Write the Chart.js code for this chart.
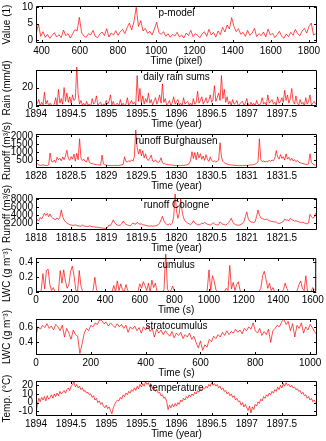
<!DOCTYPE html>
<html lang="en">
<head>
  <meta charset="UTF-8">
  <title>Example time series</title>
  <script src="https://cdn.jsdelivr.net/npm/chart.js"></script>
  <style>
    body {
      margin: 0;
      background: #fff;
      width: 326px;
      height: 441px;
      position: relative;
      overflow: hidden;
    }
    canvas {
      position: absolute;
      left: 0;
    }
  </style>
</head>
<body>
  <canvas id="c1"></canvas>
  <canvas id="c2"></canvas>
  <canvas id="c3"></canvas>
  <canvas id="c4"></canvas>
  <canvas id="c5"></canvas>
  <canvas id="c6"></canvas>
  <canvas id="c7"></canvas>
  <script>
    // p-model (x in pixel)
    const pmodelStart = 372, pmodelStep = 11.9;
    const pmodelValues = [
      2.1, 4.8, 1.2, 2.6, 0.9, 1.8, 0.6, 1.5, 2.3, 1.0,
      1.7, 0.8, 3.1, 1.4, 2.0, 0.7, 1.9, 3.2, 2.8, 6.9,
      2.2, 1.3, 0.9, 2.0, 1.6, 3.0, 1.2, 0.8, 1.9, 2.5,
      1.4, 3.5, 1.0, 2.2, 1.6, 2.9, 1.5, 2.6, 3.3, 2.0,
      3.8, 5.2, 3.1, 5.6, 9.9, 4.2, 5.9, 2.8, 3.6, 2.1,
      2.7, 1.6, 3.4, 5.4, 2.3, 1.8, 2.6, 1.2, 2.0, 0.9,
      1.8, 1.3, 2.4, 1.0, 1.6, 0.7, 2.2, 1.4, 3.0, 1.1,
      2.0, 1.5, 0.8, 1.9, 2.6, 1.2, 3.3, 1.6, 2.4, 1.0,
      2.8, 1.7, 3.9, 2.5, 4.6, 3.4, 6.8, 4.1, 2.6, 3.5,
      1.8, 2.4, 1.2, 3.0, 1.5, 2.2, 3.6, 1.1, 2.0, 1.4,
      2.5, 1.0, 3.4, 1.6, 2.1, 0.8, 1.7, 2.7, 1.2, 0.6,
      1.9, 1.1, 2.4, 1.5, 3.3, 2.0, 1.4, 2.8, 3.6, 2.2,
      4.1, 5.2, 1.6, 2.0
    ];

    // daily rain sums (mm/d)
    const rainStart = 1894, rainStep = 0.02;
    const rainValues = [
      1, 3, 7, 0, 4, 1, 15, 2, 6, 0, 3, 1, 0, 2, 9, 1, 18, 3, 8, 2,
      20, 5, 14, 4, 10, 3, 12, 6, 8, 42, 13, 2, 6, 1, 3, 0, 5, 1, 2, 0,
      8, 2, 4, 11, 1, 3, 4, 0, 2, 1, 6, 2, 5, 12, 1, 5, 0, 2, 3, 0,
      7, 1, 3, 0, 2, 9, 1, 3, 6, 2, 4, 1, 33, 5, 19, 3, 11, 2, 8, 4,
      14, 3, 7, 1, 5, 9, 2, 6, 12, 3, 24, 4, 8, 1, 3, 6, 0, 4, 10, 2,
      5, 7, 1, 3, 0, 9, 2, 4, 5, 1, 3, 0, 8, 2, 4, 16, 3, 6, 10, 2,
      5, 9, 3, 6, 12, 4, 7, 22, 5, 9, 14, 6, 33, 8, 18, 4, 10, 2, 5, 1,
      7, 2, 3, 6, 0, 2, 4, 5, 1, 3, 8, 2, 0, 4, 1, 3, 0, 6, 2, 1,
      3, 9, 2, 4, 1, 12, 3, 5, 7, 2, 4, 1, 10, 3, 5, 9, 4, 17, 6, 12,
      3, 8, 19, 5, 2, 11, 3, 1, 7, 2, 4, 0, 9, 2, 5, 12, 1, 3, 5, 2
    ];

    // runoff Burghausen (m3/s)
    const burgStart = 1828, burgStep = 0.02;
    const burgValues = [
      180, 260, 190, 170, 160, 210, 170, 160, 150, 200,
      950, 420, 380, 500, 350, 680, 520, 610, 450, 700,
      520, 760, 1120, 600, 480, 720, 560, 880, 430, 920,
      520, 1850, 640, 470, 560, 420, 380, 700, 350, 300,
      280, 250, 230, 210, 200, 190, 180, 820, 260, 200,
      180, 170, 160, 160, 150, 150, 160, 170, 150, 160,
      180, 200, 220, 710, 420, 380, 450, 400, 520, 430,
      700, 2450, 1300, 880, 1200, 760, 1100, 640, 900, 560,
      480, 620, 820, 450, 400, 520, 380, 350, 420, 650,
      330, 280, 250, 230, 220, 200, 190, 180, 170, 160,
      160, 150, 160, 150, 170, 160, 180, 200, 230, 280,
      450, 1030, 600, 980, 520, 1000, 640, 900, 550, 760,
      480, 840, 560, 420, 700, 480, 400, 450, 380, 430,
      500, 1600, 700, 420, 330, 280, 250, 220, 200, 190,
      180, 170, 160, 160, 150, 150, 160, 150, 160, 170,
      160, 170, 180, 200, 190, 220, 250, 300, 380, 1850,
      520, 400, 450, 380, 420, 400, 480, 430, 500, 460,
      620, 1100, 700, 560, 850, 600, 720, 500, 900, 560,
      680, 480, 620, 450, 520, 400, 480, 380, 340, 300,
      280, 250, 230, 220, 260, 900, 350, 250, 200, 180
    ];

    // runoff Cologne (m3/s)
    const colStart = 1818, colStep = 0.02;
    const colValues = [
      2000, 2900, 2600, 3400, 3000, 3700, 4500, 3900, 4400, 3600,
      4300, 3500, 3200, 3000, 2800, 3300, 2900, 3400, 5300, 3600,
      2800, 2300, 2000, 1800, 1600, 1500, 1450, 1400, 1550, 1400,
      1300, 1250, 1200, 1500, 1300, 1200, 1150, 1100, 1300, 1200,
      1100, 1050, 1000, 950, 900, 850, 800, 750, 700, 650,
      600, 900, 1500, 1400, 2000, 2800, 2100, 1700, 1500, 1400,
      1500, 1800, 2500, 2000, 1700, 1500, 1400, 1300, 1600, 2000,
      1800, 1700, 2200, 1900, 1700, 1800, 1600, 1500, 1400, 1300,
      1250, 1200, 1300, 1200, 1250, 1300, 1400, 1600, 2000, 2800,
      3700, 2600, 2000, 1700, 1500, 1800, 1600, 2000, 3500, 9500,
      5000, 3200, 4500, 8200, 5000, 3300, 2600, 2200, 2000, 1800,
      1650, 1900, 2600, 2100, 1800, 1600, 1500, 1700, 2000, 1800,
      2200, 1900, 1700, 1600, 1500, 1700, 2100, 1800, 1600, 1500,
      1600, 2300, 1900, 1700, 1600, 1500, 1700, 2100, 2600, 3200,
      2300, 1800, 1600, 1500, 1450, 1500, 1700, 1900, 2400, 3600,
      4800, 3200, 2500, 2300, 2200, 2100, 2400, 3600, 5300, 4000,
      3300, 3100, 3000, 2800, 3000, 2800, 2600, 2500, 2400, 2300,
      2300, 2200, 2000, 1900, 2000, 2200, 2400, 3000, 2700, 2800,
      2600, 3200, 2900, 2700, 2500, 2600, 2400, 2300, 2200, 2100,
      2200, 2000, 1900, 1800, 2000, 4200, 3600, 3200, 3500, 4500
    ];

    // cumulus liquid water content (g m-3)
    const cumStart = 0, cumStep = 10;
    const cumValues = [
      0, 0, 0, 0.02, 0.25, 0.04, 0.29, 0.31, 0.1, 0.02,
      0.06, 0, 0, 0.01, 0.29, 0.12, 0.3, 0.15, 0.05, 0.1,
      0.28, 0.35, 0.22, 0.03, 0, 0.29, 0.08, 0, 0, 0,
      0, 0, 0, 0.02, 0.2, 0.03, 0, 0, 0, 0,
      0, 0, 0, 0, 0.01, 0.09, 0, 0.15, 0.02, 0.11,
      0.03, 0, 0.1, 0.02, 0, 0, 0, 0, 0, 0.01,
      0.11, 0.05, 0.14, 0.09, 0.02, 0.12, 0, 0.16, 0.06, 0.12,
      0, 0, 0, 0, 0.03, 0.55, 0.04, 0, 0.02, 0.08,
      0.02, 0, 0, 0, 0, 0, 0, 0, 0, 0,
      0, 0, 0, 0, 0, 0, 0, 0, 0, 0.02,
      0.3, 0.02, 0.22, 0.15, 0.03, 0, 0, 0, 0, 0.01,
      0.05, 0.02, 0.36, 0.04, 0.13, 0.02, 0.1, 0.14, 0.02, 0,
      0, 0, 0, 0, 0, 0, 0, 0, 0, 0.01,
      0.05, 0.22, 0.28, 0.17, 0.05, 0.12, 0.02, 0.06, 0, 0,
      0, 0, 0, 0.03, 0.12, 0.05, 0, 0, 0, 0,
      0, 0.02, 0.1, 0.15, 0.05, 0.02, 0.22, 0, 0, 0,
      0.06, 0.03
    ];

    // stratocumulus liquid water content (g m-3)
    const stratStart = 0, stratStep = 8;
    const stratValues = [
      0.50, 0.60, 0.57, 0.62, 0.59, 0.64, 0.58, 0.61, 0.56, 0.63,
      0.60, 0.55, 0.62, 0.47, 0.58, 0.52, 0.44, 0.56, 0.50, 0.48,
      0.26, 0.38, 0.52, 0.58, 0.55, 0.62, 0.60, 0.65, 0.63, 0.69,
      0.68, 0.64, 0.66, 0.61, 0.65, 0.62, 0.59, 0.64, 0.60, 0.63,
      0.58, 0.62, 0.53, 0.60, 0.57, 0.61, 0.55, 0.59, 0.52, 0.60,
      0.56, 0.62, 0.54, 0.58, 0.47, 0.57, 0.52, 0.56, 0.50, 0.55,
      0.51, 0.48, 0.54, 0.46, 0.52, 0.49, 0.53, 0.45, 0.50, 0.47,
      0.52, 0.44, 0.48, 0.40, 0.33, 0.42, 0.30, 0.37, 0.34, 0.44,
      0.41, 0.48, 0.45, 0.50, 0.47, 0.53, 0.49, 0.55, 0.50, 0.54,
      0.52, 0.57, 0.53, 0.56, 0.51, 0.58, 0.55, 0.60, 0.57, 0.65,
      0.55, 0.52, 0.58, 0.49, 0.54, 0.50, 0.57, 0.40, 0.55, 0.58,
      0.62, 0.60, 0.66, 0.70, 0.63, 0.67, 0.55, 0.64, 0.47, 0.62,
      0.58, 0.65, 0.52, 0.60, 0.56, 0.63, 0.59, 0.54, 0.50
    ];

    // temperature (deg C)
    const tempStart = 1894, tempStep = 0.02;
    const tempValues = [
      -12, -2, 5, 1, 6, 3, 7, 2, 8, 4,
      6, 9, 5, 10, 7, 11, 8, 13, 10, 12,
      14, 11, 15, 17, 14, 19, 21, 24, 18, 21,
      17, 19, 15, 17, 13, 14, 11, 12, 9, 10,
      6, 8, 3, 5, 0, 2, -2, 0, -4, -6,
      -3, -7, -5, -9, -13, -6, -2, 1, 3, 2,
      6, 4, 9, 7, 11, 9, 13, 11, 15, 13,
      17, 14, 19, 16, 21, 18, 22, 19, 24, 21,
      23, 18, 21, 16, 18, 13, 15, 11, 12, 8,
      9, 5, 6, 1, -8, -3, -6, -2, -5, -1,
      -4, 0, -2, 3, 1, 5, 3, 7, 5, 9,
      7, 10, 8, 12, 10, 14, 12, 16, 14, 17,
      16, 19, 17, 21, 19, 23, 20, 22, 19, 21,
      17, 19, 15, 17, 13, 14, 10, 12, 8, 10,
      6, 8, 3, 5, 1, 2, -3, 0, -5, -2,
      -6, -9, -4, -12, -5, -8, -2, -4, 1, -1,
      4, 2, 7, 5, 9, 7, 11, 9, 13, 11,
      15, 13, 18, 15, 20, 17, 22, 19, 23, 20,
      21, 18, 20, 17, 18, 15, 16, 13, 14, 10,
      12, 8, 9, 5, 7, 3, 5, 1, 3, 0
    ];

    const yearTicks = [1894, 1894.5, 1895, 1895.5, 1896, 1896.5, 1897, 1897.5];

    Chart.defaults.font.family = '"Liberation Sans", Arial, sans-serif';
    Chart.defaults.font.size = 10;
    Chart.defaults.color = '#000';

    const PAD = 20;   // room above the axes box
    const XH = 26;    // x tick labels + x title
    const PLOT_LEFT = 36, PLOT_RIGHT = 317;

    // MATLAB-like box: frame, inward ticks on all sides, title inside
    const boxPlugin = {
      id: 'box',
      afterDraw(chart, args, opts) {
        const {ctx, chartArea: a, scales: {x, y}} = chart;
        ctx.save();
        ctx.strokeStyle = '#000';
        ctx.lineWidth = 1;
        ctx.beginPath();
        ctx.rect(a.left + 0.5, a.top + 0.5, a.right - a.left - 1, a.bottom - a.top - 1);
        x.ticks.forEach(t => {
          const px = Math.round(x.getPixelForValue(t.value)) + 0.5;
          ctx.moveTo(px, a.bottom); ctx.lineTo(px, a.bottom - 3);
          ctx.moveTo(px, a.top); ctx.lineTo(px, a.top + 3);
        });
        y.ticks.forEach(t => {
          const py = Math.round(y.getPixelForValue(t.value)) + 0.5;
          ctx.moveTo(a.left, py); ctx.lineTo(a.left + 3, py);
          ctx.moveTo(a.right, py); ctx.lineTo(a.right - 3, py);
        });
        ctx.stroke();
        ctx.fillStyle = '#000';
        ctx.font = '10px "Liberation Sans", Arial, sans-serif';
        ctx.textAlign = 'center';
        ctx.textBaseline = 'top';
        ctx.fillText(opts.title, (a.left + a.right) / 2, a.top + 2);
        ctx.restore();
      }
    };

    function makePanel(id, p) {
      const canvas = document.getElementById(id);
      const plotH = p.bottom - p.top;
      canvas.width = 326;
      canvas.height = PAD + plotH + XH;
      canvas.style.top = (p.top - PAD) + 'px';
      const points = p.values.map((v, i) => ({x: p.start + i * p.step, y: v}));
      new Chart(canvas, {
        type: 'line',
        data: {
          datasets: [{
            data: points,
            borderColor: '#ff0000',
            borderWidth: 0.7,
            pointRadius: 0,
            tension: 0,
            clip: {left: 0, top: 4, right: 0, bottom: 0}
          }]
        },
        options: {
          responsive: false,
          animation: false,
          events: [],
          layout: {padding: {top: PAD, left: 0, right: 326 - PLOT_RIGHT, bottom: 0}},
          plugins: {
            legend: {display: false},
            tooltip: {enabled: false},
            box: {title: p.title}
          },
          scales: {
            x: {
              type: 'linear',
              min: p.xMin,
              max: p.xMax,
              grid: {display: false, drawTicks: false},
              border: {display: false},
              ticks: {padding: 2, maxRotation: 0, autoSkip: false, includeBounds: false,
                      callback: v => String(v)},
              afterBuildTicks: s => { s.ticks = p.xTicks.map(v => ({value: v})); },
              afterFit: s => { s.height = XH; },
              title: {display: true, text: p.xLabel, padding: {top: 0, bottom: 2}}
            },
            y: {
              min: p.yMin,
              max: p.yMax,
              grid: {display: false, drawTicks: false},
              border: {display: false},
              ticks: {padding: 3, autoSkip: false, includeBounds: false,
                      callback: v => String(v)},
              afterBuildTicks: s => { s.ticks = p.yTicks.map(v => ({value: v})); },
              afterFit: s => { s.width = PLOT_LEFT; },
              title: {display: true, text: p.yLabel, padding: {top: 1, bottom: 0}}
            }
          }
        },
        plugins: [boxPlugin]
      });
    }

    makePanel('c1', {top: 6, bottom: 43, title: 'p-model', xLabel: 'Time (pixel)', yLabel: 'Value (1)',
      start: pmodelStart, step: pmodelStep, values: pmodelValues,
      xMin: 371, xMax: 1842, yMin: -0.8, yMax: 10.3,
      xTicks: [400, 600, 800, 1000, 1200, 1400, 1600, 1800], yTicks: [0, 5, 10]});

    makePanel('c2', {top: 70, bottom: 106, title: 'daily rain sums', xLabel: 'Time (year)', yLabel: 'Rain (mm/d)',
      start: rainStart, step: rainStep, values: rainValues,
      xMin: 1894, xMax: 1898, yMin: 0, yMax: 39,
      xTicks: yearTicks, yTicks: [0, 20]});

    makePanel('c3', {top: 134, bottom: 168, title: 'runoff Burghausen', xLabel: 'Time (year)', yLabel: 'Runoff (m³/s)',
      start: burgStart, step: burgStep, values: burgValues,
      xMin: 1828, xMax: 1832, yMin: 0, yMax: 2150,
      xTicks: [1828, 1828.5, 1829, 1829.5, 1830, 1830.5, 1831, 1831.5], yTicks: [500, 1000, 1500, 2000]});

    makePanel('c4', {top: 198, bottom: 230, title: 'runoff Cologne', xLabel: 'Time (year)', yLabel: 'Runoff (m³/s)',
      start: colStart, step: colStep, values: colValues,
      xMin: 1818, xMax: 1822, yMin: 250, yMax: 8300,
      xTicks: [1818, 1818.5, 1819, 1819.5, 1820, 1820.5, 1821, 1821.5], yTicks: [2000, 4000, 6000, 8000]});

    makePanel('c5', {top: 258, bottom: 292, title: 'cumulus', xLabel: 'Time (s)', yLabel: 'LWC (g m⁻³)',
      start: cumStart, step: cumStep, values: cumValues,
      xMin: 0, xMax: 1620, yMin: 0, yMax: 0.46,
      xTicks: [0, 200, 400, 600, 800, 1000, 1200, 1400, 1600], yTicks: [0, 0.2, 0.4]});

    makePanel('c6', {top: 319, bottom: 355, title: 'stratocumulus', xLabel: 'Time (s)', yLabel: 'LWC (g m⁻³)',
      start: stratStart, step: stratStep, values: stratValues,
      xMin: 0, xMax: 1025, yMin: 0.24, yMax: 0.70,
      xTicks: [0, 200, 400, 600, 800, 1000], yTicks: [0.4, 0.6]});

    makePanel('c7', {top: 381, bottom: 416, title: 'temperature', xLabel: 'Time (year)', yLabel: 'Temp. (°C)',
      start: tempStart, step: tempStep, values: tempValues,
      xMin: 1894, xMax: 1898, yMin: -15.5, yMax: 25,
      xTicks: yearTicks, yTicks: [-10, 0, 10, 20]});
  </script>
</body>
</html>
